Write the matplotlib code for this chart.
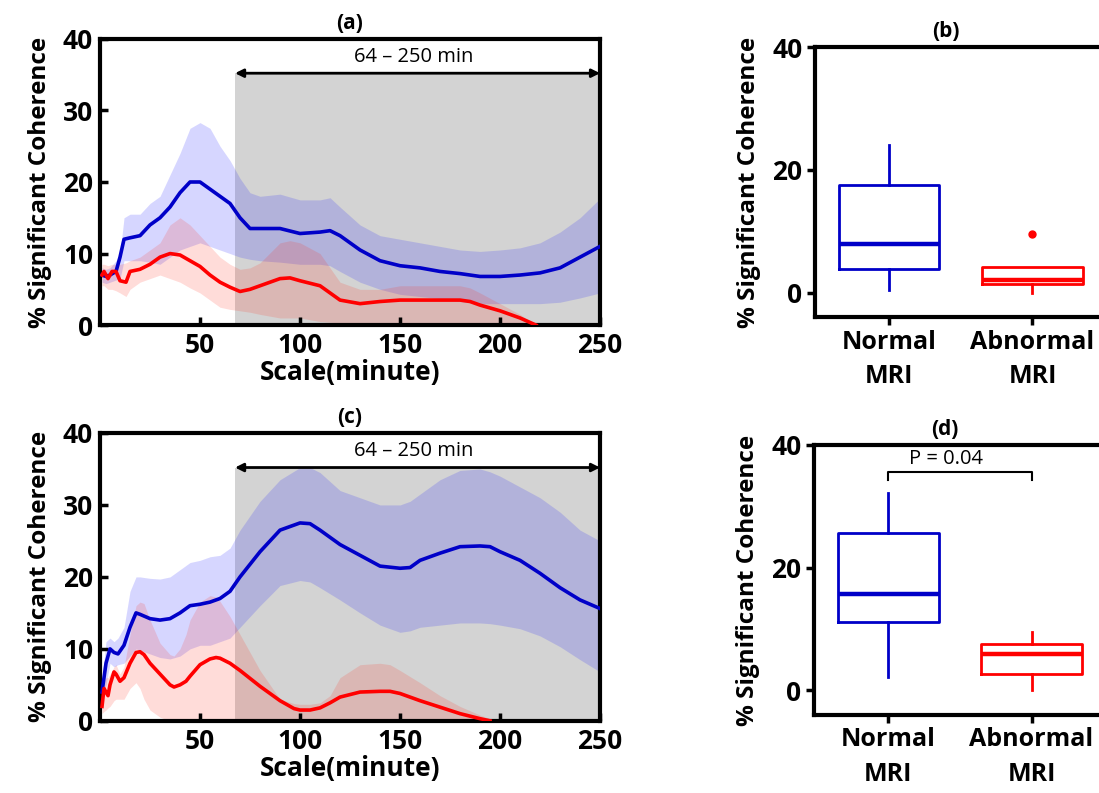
import numpy as np
import matplotlib
matplotlib.use("Agg")
import matplotlib.pyplot as plt

plt.rcParams['font.family'] = ['Open Sans', 'DejaVu Sans']

# ---- panel (a) data ----
a_blue_x = [1, 3, 5, 8, 10, 12, 15, 20, 25, 30, 35, 40, 45, 50, 55, 60, 65, 70, 75, 80, 90, 100,
            110, 115, 120, 130, 140, 150, 160, 170, 180, 190, 200, 210, 220, 230, 240, 250]
a_blue = [7, 6.8, 7, 7.5, 9.5, 12, 12.2, 12.5, 14, 15, 16.5, 18.5, 20, 20, 19, 18, 17, 15, 13.5, 13.5,
          13.5, 12.8, 13, 13.2, 12.5, 10.5, 9, 8.3, 8, 7.5, 7.2, 6.8, 6.8, 7, 7.3, 8, 9.5, 11]
a_blue_hi = [8, 7.8, 8, 9, 10, 15, 15.5, 15.5, 17, 18, 21, 24, 27.5, 28.3, 27.5, 25, 23, 20.5, 18.5, 18,
             18.3, 17.5, 17.5, 17.8, 16.5, 14, 12.5, 12, 11.5, 11, 10.5, 10.3, 10.5, 10.8, 11.5, 13, 15, 17.7]
a_blue_lo = [6, 5.8, 6, 6.3, 6.5, 9, 9, 9, 8.8, 8.5, 9.5, 10.5, 11, 11.5, 11, 10.5, 10, 9.5, 9.2, 9,
             8.8, 8.5, 8.5, 8.3, 7.5, 6, 5, 4.3, 4, 3.7, 3.3, 3, 3, 3, 3, 3.2, 3.8, 4.5]

a_red_x = [1, 2, 4, 6, 8, 10, 13, 15, 20, 25, 30, 35, 40, 45, 50, 55, 60, 65, 70, 75, 80, 90, 95, 100,
           110, 115, 120, 130, 140, 150, 160, 170, 180, 185, 190, 200, 210, 218]
a_red = [7, 7.5, 6.5, 7.5, 7.5, 6.2, 6, 7.5, 7.8, 8.5, 9.5, 10, 9.8, 9, 8.2, 7, 6, 5.3, 4.7, 5, 5.5,
         6.5, 6.6, 6.2, 5.5, 4.5, 3.5, 3, 3.3, 3.5, 3.5, 3.5, 3.5, 3.3, 2.8, 2, 1, 0]
a_red_hi = [8.5, 8.5, 8.3, 8.5, 8.5, 8.5, 8.7, 9, 9.5, 10.5, 11.5, 14, 15, 14, 12.5, 11, 9.5, 8.5, 7.8,
            8, 8.7, 11.5, 11.8, 11.5, 10, 8, 6, 5, 5, 5.5, 5.5, 5.5, 5.5, 5.2, 4.5, 3, 1.5, 0]
a_red_lo = [5.5, 5.5, 5, 5, 4.8, 4.5, 4, 5, 6, 6.5, 7, 6.5, 6, 5.2, 4.5, 3.5, 2.5, 2.2, 2, 1.8, 1.5,
            1, 1, 1, 0.5, 0.4, 0.3, 0.1, 0, 0, 0, 0, 0, 0, 0, 0, 0, 0]

# ---- panel (c) data ----
c_blue_x = [1, 3, 5, 7, 9, 12, 15, 18, 20, 25, 30, 35, 40, 45, 50, 55, 60, 65, 70, 80, 90, 100, 105,
            110, 120, 130, 140, 150, 155, 160, 170, 180, 190, 195, 200, 210, 220, 230, 240, 250]
c_blue = [4, 8, 10, 9.5, 9.3, 10.5, 13, 15, 14.8, 14.2, 14, 14.2, 15, 16, 16.2, 16.5, 17, 18, 20,
          23.5, 26.5, 27.5, 27.4, 26.5, 24.5, 23, 21.5, 21.2, 21.3, 22.3, 23.3, 24.2, 24.3, 24.2, 23.5,
          22.3, 20.5, 18.5, 16.8, 15.6]
c_blue_hi = [6, 11, 11.5, 11, 11.5, 13, 18, 20, 20, 19.8, 19.7, 20, 21, 22, 22.3, 22.8, 23, 24, 26.5,
             30.5, 33.5, 35.2, 35.2, 34.5, 32, 31, 30, 30, 30.5, 31.5, 33.5, 34.8, 35, 34.6, 34, 32.5,
             31, 29, 26.5, 25]
c_blue_lo = [3, 5, 8, 7.5, 7.8, 8, 9, 10, 9.8, 9.3, 8.8, 8.6, 9, 10, 10.5, 10.5, 11, 11.5, 13, 16,
             18.8, 19.5, 19.3, 18.5, 16.8, 15, 13.3, 12.3, 12.5, 13, 13.3, 13.6, 13.6, 13.5, 13.3,
             12.8, 11.8, 10.3, 8.5, 6.8]

c_red_x = [1, 2, 3, 4, 5, 7, 8, 10, 12, 15, 18, 20, 22, 25, 30, 35, 37, 40, 43, 45, 50, 55, 58, 60,
           65, 70, 80, 90, 97, 100, 105, 110, 115, 120, 130, 140, 145, 150, 160, 170, 180, 190, 195]
c_red = [2, 4.5, 4, 3.5, 5, 6.8, 6.5, 5.5, 6, 8, 9.5, 9.6, 9.2, 8, 6.5, 5, 4.7, 5, 5.5, 6.2, 7.8,
         8.6, 8.8, 8.7, 8, 7, 4.8, 2.8, 1.7, 1.5, 1.5, 1.8, 2.5, 3.3, 4, 4.1, 4.1, 3.8, 2.8, 1.9, 1,
         0.3, 0]
c_red_hi = [4, 5.5, 6, 6, 6.5, 7.5, 7.8, 6.5, 7.5, 12, 16, 16.5, 16.3, 14, 10.8, 9.2, 9, 10, 12, 14,
            16.5, 17.4, 17.2, 16.6, 14.5, 12, 7, 3, 2.4, 2.3, 2.3, 2.5, 3.5, 6, 7.8, 8, 7.8, 7, 5.3,
            3.5, 2, 0.8, 0.3]
c_red_lo = [1, 1.3, 1.5, 1.8, 2, 2.8, 3, 3, 3, 4.5, 5.3, 4.5, 3, 1.5, 0.5, 0, 0, 0, 0, 0, 0, 0, 0,
            0, 0, 0, 0, 0, 0, 0, 0, 0, 0, 0, 0, 0, 0, 0, 0, 0, 0, 0, 0]

# ---- box plot summaries (whislo, q1, med, q3, whishi) ----
groups = ["Normal\nMRI", "Abnormal\nMRI"]
b_stats = [(0.4, 3.8, 7.9, 17.5, 24), (0.0, 1.4, 2.1, 4.1, 4.1)]
b_outliers = [[], [9.6]]
d_stats = [(2.2, 11.1, 15.7, 25.7, 32.2), (0.0, 2.7, 5.9, 7.6, 9.5)]
d_outliers = [[], []]

band_start, band_end, band_top = 67.5, 250, 35.2
blue, red = '#0000C8', '#FF0000'

fig = plt.figure(figsize=(10.99, 7.93), dpi=100)


def line_panel(ax, bx, by, bhi, blo, rx, ry, rhi, rlo, title):
    ax.fill_between([band_start, band_end], 0, band_top, color='#d3d3d3', zorder=0, lw=0)
    ax.fill_between(bx, blo, bhi, color='#2020ff', alpha=0.18, lw=0, zorder=1)
    ax.fill_between(rx, rlo, rhi, color='#ff3020', alpha=0.17, lw=0, zorder=1)
    ax.plot(bx, by, color=blue, lw=2.6, zorder=3)
    ax.plot(rx, ry, color=red, lw=2.6, zorder=3)
    ax.annotate('', xy=(band_start, band_top), xytext=(band_end, band_top),
                arrowprops=dict(arrowstyle='<|-|>', color='black', lw=2, mutation_scale=12,
                                shrinkA=0, shrinkB=0))
    ax.text((band_start + band_end) / 2 - 2, band_top + 0.9, '64 \u2013 250 min',
            ha='center', va='bottom', fontsize=14.5)
    ax.set_xlim(0, 250)
    ax.set_ylim(0, 40)
    ax.set_xticks([50, 100, 150, 200, 250])
    ax.set_yticks([0, 10, 20, 30, 40])
    ax.tick_params(direction='in', width=2.5, length=6, labelsize=19, pad=5)
    for lab in ax.get_xticklabels() + ax.get_yticklabels():
        lab.set_fontweight('bold')
    for s in ax.spines.values():
        s.set_linewidth(3)
    ax.set_xlabel('Scale(minute)', fontsize=19, fontweight='bold', labelpad=0)
    ax.set_ylabel('% Significant Coherence', fontsize=17.5, fontweight='bold', labelpad=8)
    ax.set_title(title, fontsize=15, fontweight='bold', pad=7)


def box_panel(ax, stats, outliers, title):
    bxp_stats = []
    for (lo, q1, med, q3, hi), fl in zip(stats, outliers):
        bxp_stats.append(dict(whislo=lo, q1=q1, med=med, q3=q3, whishi=hi, fliers=fl))
    for i, (st, col) in enumerate(zip(bxp_stats, [blue, red])):
        ax.bxp([st], positions=[i + 1], widths=0.7, showcaps=False,
               boxprops=dict(color=col, lw=2),
               whiskerprops=dict(color=col, lw=2),
               medianprops=dict(color=col, lw=3.2),
               flierprops=dict(marker='o', markerfacecolor=col, markeredgecolor=col, markersize=5))
    ax.set_xlim(0.48, 2.6)
    ax.set_ylim(-4, 40)
    ax.set_yticks([0, 20, 40])
    ax.set_xticks([1, 2])
    ax.set_xticklabels(groups, linespacing=1.5)
    ax.tick_params(direction='out', width=2.5, length=6, labelsize=19, pad=3)
    ax.tick_params(axis='x', labelsize=18)
    for lab in ax.get_xticklabels() + ax.get_yticklabels():
        lab.set_fontweight('bold')
    for s in ax.spines.values():
        s.set_linewidth(3)
    ax.spines['right'].set_visible(False)
    ax.set_ylabel('% Significant Coherence', fontsize=17.5, fontweight='bold', labelpad=8)
    ax.set_title(title, fontsize=15, fontweight='bold', pad=7, x=0.43)


ax_a = fig.add_axes([0.091, 0.590, 0.455, 0.361])
line_panel(ax_a, a_blue_x, a_blue, a_blue_hi, a_blue_lo, a_red_x, a_red, a_red_hi, a_red_lo, '(a)')

ax_c = fig.add_axes([0.091, 0.091, 0.455, 0.363])
line_panel(ax_c, c_blue_x, c_blue, c_blue_hi, c_blue_lo, c_red_x, c_red, c_red_hi, c_red_lo, '(c)')

ax_b = fig.add_axes([0.7416, 0.600, 0.276, 0.3405])
box_panel(ax_b, b_stats, b_outliers, '(b)')

ax_d = fig.add_axes([0.7407, 0.0984, 0.276, 0.3405])
box_panel(ax_d, d_stats, d_outliers, '(d)')
# significance bracket
ax_d.plot([1, 1, 2, 2], [34.3, 35.6, 35.6, 34.3], color='black', lw=1.5)
ax_d.text(1.4, 36.0, 'P = 0.04', ha='center', va='bottom', fontsize=14.5)

fig.savefig('out.png', dpi=100)
